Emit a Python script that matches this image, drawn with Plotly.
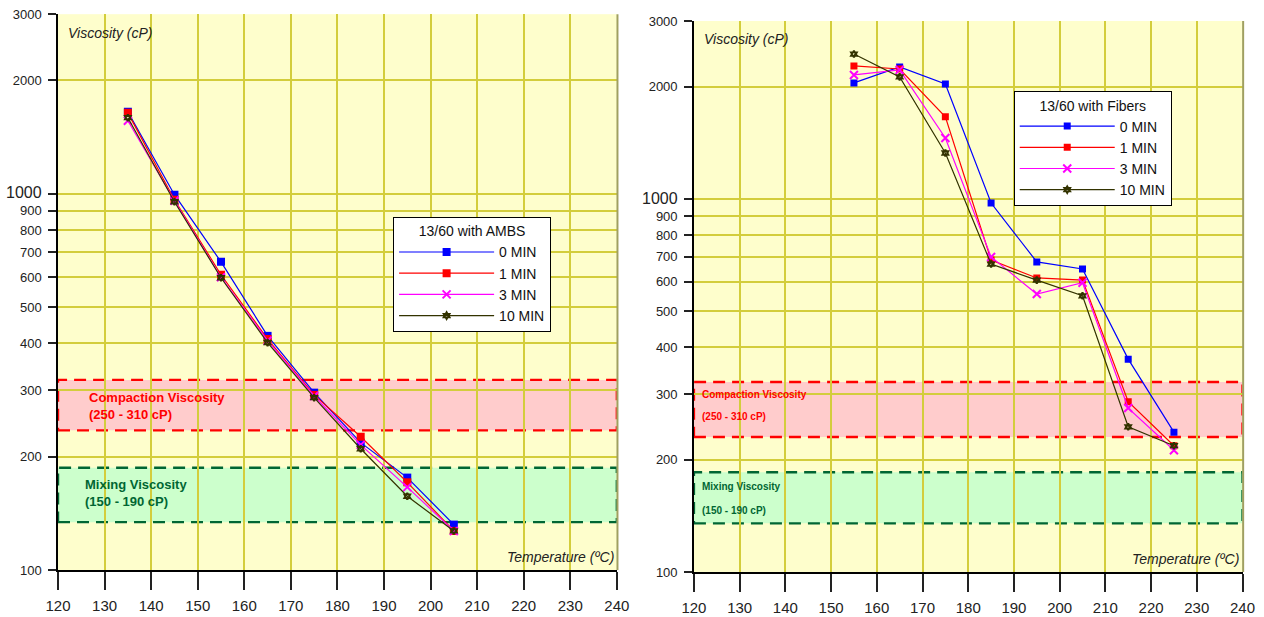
import plotly.graph_objects as go

# ---------------- data ----------------
temps_ambs = [135, 145, 155, 165, 175, 185, 195, 205]
ambs_0 = [1652, 994, 659, 419, 296, 218, 176, 132]
ambs_1 = [1640, 964, 609, 411, 292, 226, 171, 127]
ambs_3 = [1563, 958, 600, 407, 290, 215, 166, 127]
ambs_10 = [1592, 952, 598, 402, 287, 210, 157, 127]

temps_fib = [155, 165, 175, 185, 195, 205, 215, 225]
fib_0 = [2047, 2259, 2033, 975, 678, 649, 372, 237]
fib_1 = [2273, 2230, 1660, 686, 614, 606, 286, 218]
fib_3 = [2150, 2218, 1457, 699, 556, 596, 275, 212]
fib_10 = [2446, 2124, 1328, 669, 606, 550, 245, 218]

series_names = ["0 MIN", "1 MIN", "3 MIN", "10 MIN"]
legend_titles = ["13/60 with AMBS", "13/60 with Fibers"]

compaction_band_left = [235, 320]
mixing_band_left = [134, 187]
compaction_band_right = [230, 323]
mixing_band_right = [135, 185]

y_ticks = [100, 200, 300, 400, 500, 600, 700, 800, 900, 1000, 2000, 3000]
x_ticks = [120, 130, 140, 150, 160, 170, 180, 190, 200, 210, 220, 230, 240]

# ---------------- styles ----------------
colors = ["#0000FF", "#FF0000", "#FF00FF", "#333300"]
symbols = ["square", "square", "x-thin-open", "hexagram-open"]
FONT = "Liberation Sans, Arial, sans-serif"
GRID = "#D3CD3C"
BG = "#FEFECC"

fig = go.Figure()


def add_series(temps, vals_list, xa, ya, legend, big):
    for name, vals, c, s in zip(series_names, vals_list, colors, symbols):
        if s == "square":
            msize = 8 if big else 7
        elif s.startswith("x"):
            msize = 8
        else:
            msize = 5
        fig.add_trace(go.Scatter(
            x=temps, y=vals, name=name, mode="lines+markers",
            xaxis=xa, yaxis=ya, legend=legend,
            line=dict(color=c, width=1.2),
            marker=dict(symbol=s, size=msize, color=c,
                        line=dict(color=c, width=2 if s != "square" else 0)),
        ))


add_series(temps_ambs, [ambs_0, ambs_1, ambs_3, ambs_10], "x", "y", "legend", True)
add_series(temps_fib, [fib_0, fib_1, fib_3, fib_10], "x2", "y2", "legend2", False)

ytext = [f'<span style="font-size:16px">{v}</span>' if v == 1000 else str(v) for v in y_ticks]

xcommon = dict(range=[120, 240], tickvals=x_ticks, showgrid=True, gridcolor=GRID,
               gridwidth=1.6, showline=True, linecolor="black", linewidth=1.5,
               ticks="outside", ticklen=18, tickcolor="#222", tickwidth=1.5,
               tickfont=dict(family=FONT, size=15, color="#222"),
               ticklabelstandoff=3, zeroline=False, fixedrange=True, automargin=False)
ycommon = dict(type="log", range=[2, 3.4771], tickvals=y_ticks, ticktext=ytext,
               showgrid=True, gridcolor=GRID, gridwidth=1.6, showline=True,
               linecolor="black", linewidth=1.5, ticks="outside", ticklen=8,
               tickcolor="#222", tickwidth=1.5,
               tickfont=dict(family=FONT, size=13, color="#222"),
               ticklabelstandoff=4, zeroline=False, fixedrange=True, automargin=False)

fig.update_layout(
    width=1264, height=617, autosize=False,
    margin=dict(l=0, r=0, t=0, b=0),
    paper_bgcolor="white", plot_bgcolor=BG,
    font=dict(family=FONT, color="#222"),
    xaxis=dict(domain=[0.0459, 0.488], anchor="y", **xcommon),
    yaxis=dict(domain=[0.0762, 0.977], anchor="x", **ycommon),
    xaxis2=dict(domain=[0.549, 0.983], anchor="y2", **xcommon),
    yaxis2=dict(domain=[0.073, 0.966], anchor="x2", **ycommon),
    legend=dict(x=0.311, y=0.648, xanchor="left", yanchor="top",
                bgcolor="white", bordercolor="black", borderwidth=1,
                font=dict(family=FONT, size=14, color="#111"),
                title=dict(text=legend_titles[0], side="top center",
                           font=dict(family=FONT, size=14, color="#111")),
                itemwidth=95, tracegroupgap=0),
    legend2=dict(x=0.802, y=0.852, xanchor="left", yanchor="top",
                 bgcolor="white", bordercolor="black", borderwidth=1,
                 font=dict(family=FONT, size=14, color="#111"),
                 title=dict(text=legend_titles[1], side="top center",
                            font=dict(family=FONT, size=14, color="#111")),
                 itemwidth=95, tracegroupgap=0),
    showlegend=True,
)


def add_bands(xref, yref, comp, mix):
    fig.add_shape(type="rect", xref=xref, yref=yref, x0=120, x1=240,
                  y0=comp[0], y1=comp[1], fillcolor="#FFCCCC", layer="below",
                  line=dict(color="#FF0000", width=2.4, dash="12px,7px"))
    fig.add_shape(type="rect", xref=xref, yref=yref, x0=120, x1=240,
                  y0=mix[0], y1=mix[1], fillcolor="#CCFFCC", layer="below",
                  line=dict(color="#006633", width=2.4, dash="12px,7px"))


add_bands("x", "y", compaction_band_left, mixing_band_left)
add_bands("x2", "y2", compaction_band_right, mixing_band_right)

# right-edge shadows
for x0, y0, y1 in [(0.4885, 0.0762, 0.977), (0.9835, 0.073, 0.966)]:
    fig.add_shape(type="line", xref="paper", yref="paper", x0=x0, x1=x0,
                  y0=y0, y1=y1, line=dict(color="#A0A060", width=2))

# axis titles inside plots
for xd, yd in [("x domain", "y domain"), ("x2 domain", "y2 domain")]:
    fig.add_annotation(text="<i>Viscosity (cP)</i>", xref=xd, yref=yd,
                       x=0.014, y=0.985, xanchor="left", yanchor="top", showarrow=False,
                       font=dict(family=FONT, size=14, color="#222"))
    fig.add_annotation(text="<i>Temperature (ºC)</i>", xref=xd, yref=yd,
                       x=0.998, y=0.005, xanchor="right", yanchor="bottom", showarrow=False,
                       font=dict(family=FONT, size=14, color="#222"))

# band labels
fig.add_annotation(text="<b>Compaction Viscosity<br>(250 - 310 cP)</b>", xref="x", yref="y",
                   x=126.2, y=2.436, xanchor="left", yanchor="middle", align="left",
                   showarrow=False, font=dict(family=FONT, size=13, color="#FF0000"))
fig.add_annotation(text="<b>Mixing Viscosity<br>(150 - 190 cP)</b>", xref="x", yref="y",
                   x=125.4, y=2.205, xanchor="left", yanchor="middle", align="left",
                   showarrow=False, font=dict(family=FONT, size=13, color="#006633"))

for txt, yv, col in [("Compaction Viscosity", 2.477, "#FF0000"),
                     ("(250 - 310 cP)", 2.416, "#FF0000"),
                     ("Mixing Viscosity", 2.228, "#006633"),
                     ("(150 - 190 cP)", 2.164, "#006633")]:
    fig.add_annotation(text=f"<b>{txt}</b>", xref="x2", yref="y2", x=121.4, y=yv,
                       xanchor="left", yanchor="middle", showarrow=False,
                       font=dict(family=FONT, size=10, color=col))

fig.write_html("out.html", config={"displayModeBar": False},
               post_script="document.body.style.margin='0';document.body.style.overflow='hidden';")
